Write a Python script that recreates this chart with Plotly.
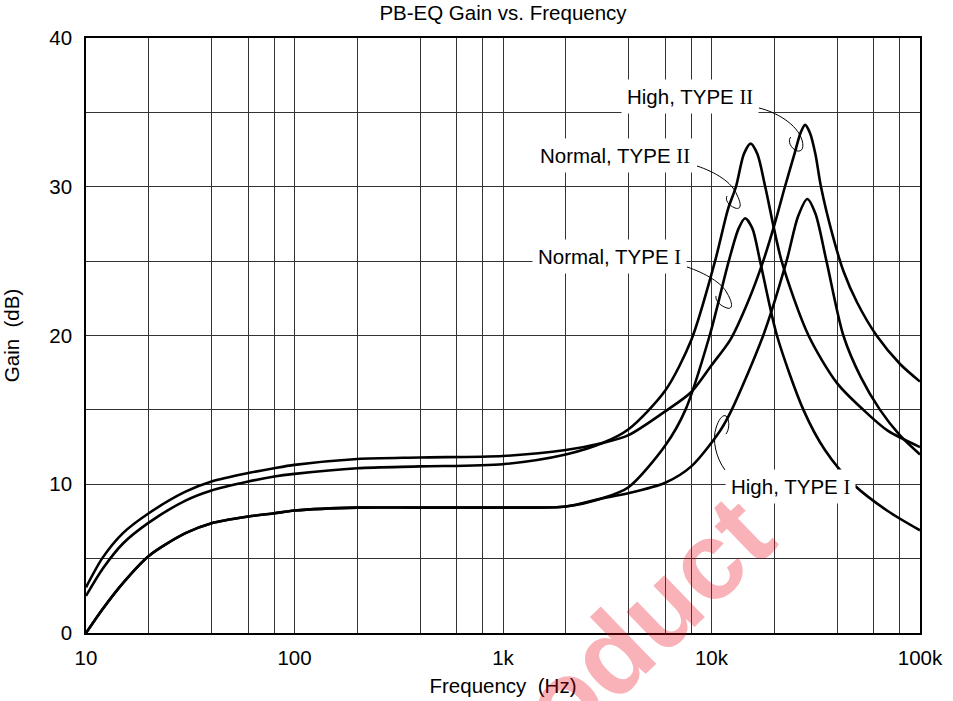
import plotly.graph_objects as go

# ---------------- data ----------------
# High, TYPE II
hi2_f = [10, 12, 15, 20, 30, 40, 60, 80, 100, 200, 400, 1000, 2000, 3000, 4000, 6000, 8000,
         10000, 12300, 15000, 17700, 20000, 22500, 25100, 26700, 28100, 29700, 31500, 33500,
         38000, 43000, 50000, 61900, 80000, 100000]
hi2_db = [3.07, 5.05, 6.7, 8.05, 9.5, 10.18, 10.75, 11.08, 11.3, 11.7, 11.8, 11.9, 12.3, 12.77, 13.3, 14.9, 16.2,
          18.0, 19.7, 22.3, 25.0, 27.4, 30.0, 32.3, 33.6, 34.16, 33.6, 32.2, 30.0,
          26.8, 24.3, 22.2, 20.0, 18.1, 16.9]

# Normal, TYPE II
no2_f = [10, 12, 15, 20, 30, 40, 60, 80, 100, 200, 400, 1000, 2000, 3000, 4000, 6000, 8000,
         10400, 12000, 13100, 14300, 15400, 16600, 18100, 21700, 29200, 40000, 53500, 70000, 100000]
no2_db = [2.49, 4.3, 6.0, 7.42, 8.9, 9.58, 10.18, 10.52, 10.7, 11.08, 11.2, 11.35, 12.0, 12.77, 13.7, 16.3, 19.7,
          25.0, 28.5, 30.0, 32.2, 32.9, 32.2, 30.0, 25.0, 20.0, 16.8, 15.0, 13.6, 12.5]

# Normal, TYPE I
no1_f = [10, 12, 15, 20, 30, 40, 60, 80, 100, 200, 400, 1000, 2000, 3000, 4000, 6000, 7500,
         9800, 12100, 13500, 14500, 15700, 17100, 20600, 27600, 35000, 47900, 70000, 100000]
no1_db = [0.0, 1.6, 3.34, 5.18, 6.71, 7.38, 7.83, 8.05, 8.23, 8.43, 8.43, 8.43, 8.5, 9.06, 9.8, 12.6, 15.0,
          20.0, 25.0, 27.2, 27.88, 27.2, 25.0, 20.0, 15.0, 12.3, 10.0, 8.2, 6.9]

# High, TYPE I
hi1_f = [10, 12, 15, 20, 30, 40, 60, 80, 100, 200, 400, 1000, 2000, 3000, 4000, 6000, 8000,
         11000, 12500, 17700, 22900, 26000, 28800, 31500, 35600, 42900, 52000, 64300, 80000, 100000]
hi1_db = [0.0, 1.6, 3.34, 5.18, 6.71, 7.38, 7.83, 8.05, 8.23, 8.43, 8.43, 8.43, 8.5, 9.06, 9.4, 10.1, 11.2,
          13.6, 15.0, 20.0, 25.0, 28.0, 29.18, 28.2, 25.0, 20.0, 17.2, 15.0, 13.3, 12.0]

x_tickvals = [10, 100, 1000, 10000, 100000]
x_ticktext = ["10", "100", "1k", "10k", "100k"]
x_minor = [m * d for d in (10, 100, 1000, 10000) for m in (2, 4, 6, 8)]
y_tickvals = [0, 10, 20, 30, 40]

labels = ["High, TYPE II", "Normal, TYPE II", "Normal, TYPE I", "High, TYPE I"]

# ---------------- figure ----------------
W, H = 953, 701
L, R, T, B = 86, 33, 38, 68
PW, PH = W - L - R, H - T - B

def px(x, y):
    """page pixel -> paper coordinates (for decorations only)"""
    return ((x - L) / PW, (H - B - y) / PH)

fig = go.Figure()
for f, g in [(no1_f, no1_db), (hi1_f, hi1_db), (no2_f, no2_db), (hi2_f, hi2_db)]:
    fig.add_trace(go.Scatter(x=f, y=g, mode="lines",
                             line=dict(color="black", width=2.6, shape="spline", smoothing=0.8),
                             hoverinfo="skip", showlegend=False))

FONT = "Liberation Sans, Arial, Helvetica, sans-serif"
SERIF = "Liberation Serif, Times New Roman, serif"
grid = "#333333"
FS = 20.5

def roman(lbl):
    head, num = lbl.rsplit(" ", 1)
    return f"{head} <span style='font-family:{SERIF}'>{num}</span>"

# label positions (page px) and leader paths (page px)
label_pos = [(690, 97), (615, 156), (609, 256), (790, 486)]
leaders = [
    [(759, 108), (776, 112), (797, 124), (802, 140), (805, 150), (800, 153), (795, 150), (789, 146), (788, 139), (791, 137)],
    [(697, 166), (715, 172), (732, 182), (737, 195), (742, 205), (741, 210), (735, 208), (728, 205), (725, 200), (727, 196)],
    [(687, 267), (705, 273), (722, 283), (727, 293), (733, 303), (733, 310), (727, 308), (720, 306), (715, 300), (716, 296)],
    [(725, 470), (716, 458), (712, 440), (716, 428), (719, 418), (724, 413), (727, 417), (730, 422), (729, 430), (726, 434)],
]

shapes = []
for pts in leaders:
    p = [px(*q) for q in pts]
    d = f"M {p[0][0]},{p[0][1]}"
    for i in range(1, len(p), 3):
        d += f" C {p[i][0]},{p[i][1]} {p[i+1][0]},{p[i+1][1]} {p[i+2][0]},{p[i+2][1]}"
    shapes.append(dict(type="path", xref="paper", yref="paper", path=d,
                       line=dict(color="black", width=1)))

annotations = []
for lbl, (x, y) in zip(labels, label_pos):
    ax, ay = px(x, y)
    annotations.append(dict(text=roman(lbl), x=ax, y=ay, xref="paper", yref="paper",
                            showarrow=False, xanchor="center", yanchor="middle",
                            bgcolor="white", borderpad=5,
                            font=dict(family=FONT, size=FS, color="black")))

# watermark
wx, wy = px(604, 660)
annotations.append(dict(text="<b>Product</b>", x=wx, y=wy, xref="paper", yref="paper",
                        showarrow=False, textangle=-44, xanchor="center", yanchor="middle",
                        font=dict(family=FONT, size=110, color="rgba(232,0,20,0.30)")))

fig.update_layout(
    width=W, height=H,
    margin=dict(l=L, r=R, t=T, b=B, autoexpand=False),
    paper_bgcolor="white", plot_bgcolor="white",
    font=dict(family=FONT, size=FS, color="black"),
    title=dict(text="PB-EQ Gain vs. Frequency", x=0.5, xref="paper", y=1 - 13 / H,
               yanchor="middle", font=dict(family=FONT, size=FS, color="black")),
    shapes=shapes, annotations=annotations,
)
fig.update_xaxes(type="log", range=[1, 5], tickvals=x_tickvals, ticktext=x_ticktext,
                 showgrid=True, gridcolor=grid, gridwidth=1,
                 minor=dict(tickvals=x_minor, showgrid=True, gridcolor=grid, gridwidth=1, ticklen=0),
                 showline=True, linecolor="black", linewidth=1.5, mirror=True,
                 ticks="", ticklabelstandoff=6, zeroline=False, automargin=False,
                 title=dict(text="Frequency\u00a0 (Hz)", standoff=10, font=dict(size=FS)))
fig.update_yaxes(range=[0, 40], tickvals=y_tickvals,
                 showgrid=True, gridcolor=grid, gridwidth=1,
                 minor=dict(dtick=5, showgrid=True, gridcolor=grid, gridwidth=1, ticklen=0),
                 showline=True, linecolor="black", linewidth=1.5, mirror=True,
                 ticks="", ticklabelstandoff=8, zeroline=False, automargin=False,
                 title=dict(text="Gain\u00a0 (dB)", standoff=33, font=dict(size=FS)))

fig.write_html("out.html", config={"displayModeBar": False},
               post_script="document.body.style.margin='0';document.body.style.overflow='hidden';")
